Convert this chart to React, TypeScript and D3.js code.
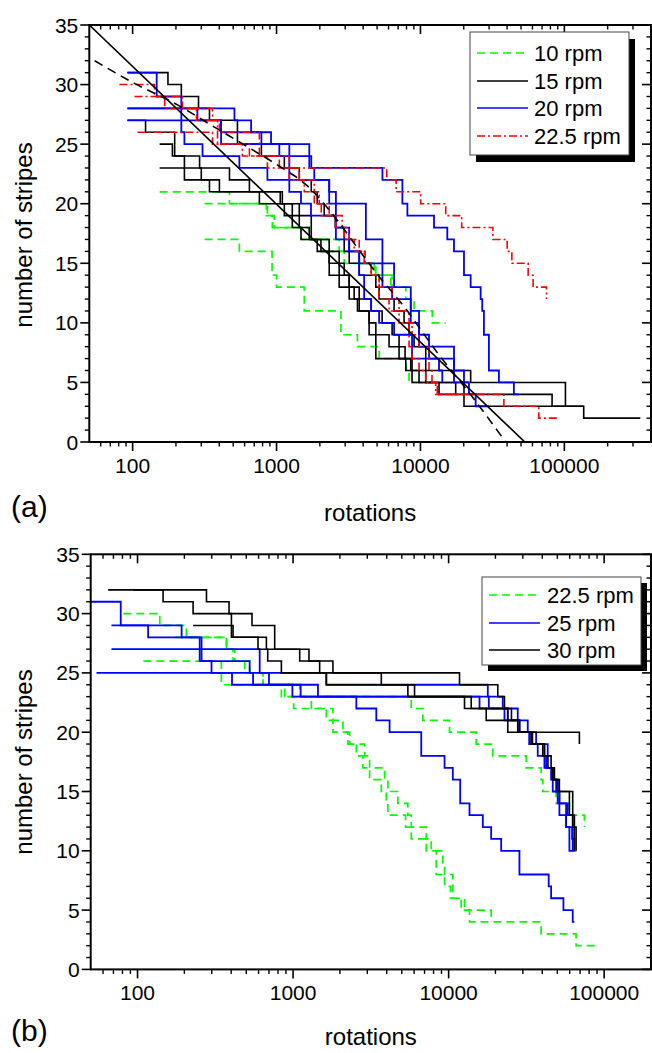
import React from 'react';
import * as d3 from 'd3';

type Pt = [number, number];

// ===== Panel (a) data: [rotations, number of stripes] breakpoints of each run =====
const a10rpm: Pt[][] = [
  [[154,21],[471,20],[850,19],[935,18],[1689,17],[2724,16],[3753,15],[4768,14],[6355,13],[7910,12],[9030,11],[12090,10],[14980,10]],
  [[316,20],[864,19],[965,18],[1486,17],[2323,16],[2953,15],[4898,14],[6223,13]],
  [[316,17],[552,16],[931,14],[1000,13],[1558,11],[2802,9],[3650,8],[5163,7],[7946,6],[8335,5],[12030,5]],
];
const a15rpm: Pt[][] = [
  [[92,31],[176,30],[218,29],[287,28],[342,27],[535,25],[785,24],[1133,23],[1439,22],[1743,21],[1918,20],[2145,19],[2557,18],[2953,16],[3198,15],[3753,14],[4898,13],[5163,12],[6560,11],[7697,10],[8335,9],[9030,8],[10885,6],[22330,5],[101760,3],[136300,2],[337100,2]],
  [[154,25],[189,24],[229,23],[300,22],[401,21],[1061,20],[1287,18],[1479,17],[2035,16],[2323,14],[2724,13],[3463,12],[3650,11],[4398,9],[4898,7],[7910,6],[10885,5],[20070,3],[136300,3]],
  [[92,27],[123,26],[196,24],[292,23],[471,22],[648,21],[1097,20],[1439,19],[1743,17],[2323,16],[2724,15],[2953,14],[3198,13],[3753,12],[4545,11],[5416,10],[6355,9],[7101,8],[7820,7],[8745,5],[17580,4],[82170,3],[101760,3]],
  [[154,23],[229,22],[342,21],[760,20],[1133,19],[1439,18],[1689,17],[1918,16],[2323,15],[2724,14],[3198,12],[3753,11],[4398,10],[4898,9],[6053,8],[7101,7],[8565,6],[9779,5],[13460,4],[17940,4]],
];
const a20rpm: Pt[][] = [
  [[92,31],[147,29],[218,26],[229,25],[306,24],[552,23],[864,22],[1227,21],[1479,20],[1735,19],[2586,17],[3198,16],[3753,15],[5442,13],[6355,12],[8565,10],[9779,8],[11470,7],[17100,5],[21730,4],[24190,3],[29910,3]],
  [[92,28],[510,27],[666,26],[916,25],[1689,23],[1829,22],[2323,21],[2586,20],[4176,17],[5442,15],[6560,13],[8565,11],[9779,9],[11470,8],[17100,6],[20070,5],[21730,5]],
  [[92,27],[412,25],[1227,22],[2323,20],[2586,18],[3198,16],[3753,14],[4064,12],[4545,11],[5163,10],[6560,9],[8745,7],[13460,6],[14190,5]],
  [[92,28],[282,27],[412,26],[785,25],[1046,24],[1743,23],[5442,22],[7491,20],[8114,19],[12427,18],[15370,17],[17100,16],[20070,14],[22330,13],[26200,12],[26880,11],[27610,9],[29910,6],[35090,5],[44580,4],[48290,4]],
];
const a225rpm: Pt[][] = [
  [[81,30],[142,29],[222,28],[359,27],[389,25],[579,24],[1227,23],[5830,22],[6773,21],[10040,20],[14990,19],[19340,18],[31880,17],[40060,16],[43170,15],[56020,14],[60660,13],[75150,12]],
  [[103,29],[167,28],[278,27],[401,26],[760,24],[1046,23],[1439,22],[1829,21],[1980,20],[2323,19],[2860,18],[3198,17],[3753,16],[4129,15],[4545,14],[5163,13],[6355,12],[7101,11],[8335,10],[8745,9],[9779,8],[11470,6],[12030,5],[13100,4],[37990,3],[66460,2],[91460,2]],
  [[108,26],[359,25],[648,24],[864,23],[1227,22],[1558,21],[1829,20],[2045,19],[2586,18],[2953,17],[3463,16],[4064,15],[4545,14],[5163,12],[6053,11],[7101,10],[8335,8],[8745,7],[9779,6],[10885,5],[12770,4],[20610,4]],
];
const aFitSolid: Pt[] = [[50,35],[53100,0]];
const aFitDashed: Pt[] = [[54.5,32],[103,30.1],[205,28.3],[351,26.6],[665,24.6],[1060,23.1],[1602,21.6],[2724,18.4],[3749,16.1],[5159,13.9],[7880,11.2],[10940,8.8],[13100,7.5],[22900,3.8],[39100,0]];

// ===== Panel (b) data =====
const b225rpm: Pt[][] = [
  [[81,30],[139,29],[206,28],[373,27],[422,26],[489,25],[641,24],[841,23],[1009,22],[1636,21],[1804,20],[2253,19],[2551,18],[2811,17],[3105,16],[3692,15],[3975,14],[4070,13],[5287,12],[5752,11],[7179,10],[8325,8],[9414,7],[10285,6],[12050,5],[18770,4]],
  [[109,26],[346,24],[884,23],[1311,22],[1804,21],[2092,20],[2310,19],[2883,18],[3105,17],[3877,16],[4070,15],[4718,14],[5470,13],[5752,12],[7179,11],[7730,10],[9181,9],[9414,8],[10640,6],[12650,5],[13620,4],[39330,3],[65990,2],[90830,2]],
  [[174,28],[373,27],[411,26],[526,25],[641,24],[1103,23],[5752,22],[6829,21],[10135,20],[15040,19],[19230,18],[31510,17],[39330,16],[40270,15],[49100,14],[59770,13],[74620,12]],
];
const b25rpm: Pt[][] = [
  [[50,31],[78,29],[192,28],[251,26],[299,25],[405,24],[990,23],[2551,22],[3428,21],[4173,20],[6668,18],[9414,17],[10640,16],[11870,14],[13620,13],[16590,12],[18770,11],[21770,10],[28530,8],[44000,7],[45600,6],[54700,5],[62770,4],[64370,4]],
  [[68,29],[117,28],[258,26],[526,25],[700,24],[1119,23],[15800,22],[24000,21],[28530,20],[33080,19],[37400,18],[42340,17],[46700,15],[51540,13],[56930,12],[59770,10],[62210,10]],
  [[68,27],[610,25],[1636,24],[17860,23],[22290,22],[27820,21],[32270,20],[36520,19],[43350,17],[46700,16],[50260,14],[58300,13],[62770,10],[64370,10]],
  [[54.5,25],[553,24],[1445,23],[18130,22],[22860,21],[28530,20],[33080,19],[41290,17],[45600,16],[49100,15],[51540,14],[56930,12],[62210,11],[64370,10]],
];
const b30rpm: Pt[][] = [
  [[64.7,32],[146,31],[227.6,30],[401.5,28],[595,27],[687,26],[841,25],[1636,24],[5470,23],[12650,22],[17440,21],[27820,20],[33920,19],[41290,18],[45600,17],[46700,16],[51540,15],[62770,12],[65990,10],[66290,10]],
  [[93.7,32],[277.5,31],[387.5,30],[544.5,29],[761.7,27],[1265,26],[1804,25],[3692,24],[6039,23],[13970,22],[24000,20],[69290,19]],
  [[227.6,29],[411.2,28],[673.8,27],[1103,26],[1482,25],[11750,24],[20700,23],[22860,22],[25350,21],[28530,20],[34590,19],[40270,18],[43350,17],[47880,16],[50260,15],[59770,13],[64370,10],[65320,10]],
];

// ===== axis ticks and labels =====
const xMajorTicks = [100, 1000, 10000, 100000];
const xMinorMultipliers = [2, 3, 4, 5, 6, 7, 8, 9];
const xDecades = [10, 100, 1000, 10000, 100000];
const yMajorTicks = [0, 5, 10, 15, 20, 25, 30, 35];
const yMinorTicks = [1,2,3,4,6,7,8,9,11,12,13,14,16,17,18,19,21,22,23,24,26,27,28,29,31,32,33,34];
const legendA = ['10 rpm', '15 rpm', '20 rpm', '22.5 rpm'];
const legendB = ['22.5 rpm', '25 rpm', '30 rpm'];
const xTitle = 'rotations';
const yTitle = 'number of stripes';

const FONT = "'Liberation Sans', Arial, Helvetica, sans-serif";
const GREEN = '#00ff00';
const BLUE = '#0000ff';
const RED = '#ff0000';
const BLACK = '#000000';
const GREEN_DASH = '8,5';
const RED_DASH = '8,3,2,3';

interface Group { runs: Pt[][]; color: string; dash?: string; width: number }
interface LegendItem { label: string; color: string; dash?: string }
interface PanelProps {
  clipId: string;
  left: number; right: number; top: number; bottom: number; xMax: number;
  groups: Group[];
  fits: { pts: Pt[]; dash?: string; smooth: boolean }[];
  legend: { x: number; y: number; w: number; h: number; sx: number; sy: number; rowY: number[]; lineX0: number; lineX1: number; textX: number; items: LegendItem[] };
  tag: string; tagY: number; xTitleY: number; yTitleX: number; yTitleY: number;
}

function Panel(p: PanelProps) {
  const x = d3.scaleLog().domain([50, p.xMax]).range([p.left, p.right]);
  const y = d3.scaleLinear().domain([0, 35]).range([p.bottom, p.top]);
  const step = d3.line<Pt>().x(d => x(d[0])).y(d => y(d[1])).curve(d3.curveStepAfter);
  const straight = d3.line<Pt>().x(d => x(d[0])).y(d => y(d[1]));
  const smooth = d3.line<Pt>().x(d => x(d[0])).y(d => y(d[1])).curve(d3.curveMonotoneX);

  const minors: number[] = [];
  xDecades.forEach(d => xMinorMultipliers.forEach(m => {
    const v = d * m;
    if (v > 50 && v < p.xMax) minors.push(v);
  }));

  const MAJ = 9, MIN = 4.5;
  return (
    <g>
      <defs>
        <clipPath id={p.clipId}>
          <rect x={p.left} y={p.top} width={p.right - p.left} height={p.bottom - p.top} />
        </clipPath>
      </defs>
      <g clipPath={`url(#${p.clipId})`}>
        {p.groups.map((g, gi) => g.runs.map((r, ri) => (
          <path key={`${gi}-${ri}`} d={step(r) || ''} fill="none" stroke={g.color}
            strokeWidth={g.width} strokeDasharray={g.dash} />
        )))}
        {p.fits.map((f, i) => (
          <path key={`f${i}`} d={(f.smooth ? smooth(f.pts) : straight(f.pts)) || ''} fill="none"
            stroke={BLACK} strokeWidth={1.6} strokeDasharray={f.dash} />
        ))}
      </g>
      <rect x={p.left} y={p.top} width={p.right - p.left} height={p.bottom - p.top}
        fill="none" stroke={BLACK} strokeWidth={2} />
      {xMajorTicks.map(v => (
        <g key={`xm${v}`}>
          <line x1={x(v)} x2={x(v)} y1={p.bottom} y2={p.bottom + MAJ} stroke={BLACK} strokeWidth={1.6} />
          <line x1={x(v)} x2={x(v)} y1={p.top} y2={p.top + MAJ} stroke={BLACK} strokeWidth={1.6} />
          <text x={x(v)} y={p.bottom + 31} textAnchor="middle" fontFamily={FONT} fontSize={21}>{v}</text>
        </g>
      ))}
      {minors.map(v => (
        <g key={`xn${v}`}>
          <line x1={x(v)} x2={x(v)} y1={p.bottom} y2={p.bottom + MIN} stroke={BLACK} strokeWidth={1.4} />
          <line x1={x(v)} x2={x(v)} y1={p.top} y2={p.top + MIN} stroke={BLACK} strokeWidth={1.4} />
        </g>
      ))}
      {yMajorTicks.map(v => (
        <g key={`ym${v}`}>
          <line x1={p.left - MAJ} x2={p.left} y1={y(v)} y2={y(v)} stroke={BLACK} strokeWidth={1.6} />
          <line x1={p.right - MAJ} x2={p.right} y1={y(v)} y2={y(v)} stroke={BLACK} strokeWidth={1.6} />
          <text x={p.left - 11} y={y(v) + 7.5} textAnchor="end" fontFamily={FONT} fontSize={21}>{v}</text>
        </g>
      ))}
      {yMinorTicks.map(v => (
        <g key={`yn${v}`}>
          <line x1={p.left - MIN} x2={p.left} y1={y(v)} y2={y(v)} stroke={BLACK} strokeWidth={1.4} />
          <line x1={p.right - MIN} x2={p.right} y1={y(v)} y2={y(v)} stroke={BLACK} strokeWidth={1.4} />
        </g>
      ))}
      <text x={(p.left + p.right) / 2} y={p.xTitleY} textAnchor="middle" fontFamily={FONT} fontSize={24}>{xTitle}</text>
      <text transform={`translate(${p.yTitleX},${p.yTitleY}) rotate(-90)`} textAnchor="middle" fontFamily={FONT} fontSize={24}>{yTitle}</text>
      <text x={11} y={p.tagY} fontFamily={FONT} fontSize={30}>{p.tag}</text>
      <rect x={p.legend.x + p.legend.sx} y={p.legend.y + p.legend.sy} width={p.legend.w} height={p.legend.h} fill={BLACK} />
      <rect x={p.legend.x} y={p.legend.y} width={p.legend.w} height={p.legend.h} fill="#ffffff" stroke="#444" strokeWidth={1} />
      {p.legend.items.map((it, i) => (
        <g key={`lg${i}`}>
          <line x1={p.legend.lineX0} x2={p.legend.lineX1} y1={p.legend.rowY[i]} y2={p.legend.rowY[i]}
            stroke={it.color} strokeWidth={1.6} strokeDasharray={it.dash} />
          <text x={p.legend.textX} y={p.legend.rowY[i] + 8} fontFamily={FONT} fontSize={22}>{it.label}</text>
        </g>
      ))}
    </g>
  );
}

export default function App() {
  return (
    <svg width={652} height={1053} style={{ position: 'absolute', left: 0, top: 0, background: '#fff' }}>
      <rect x={0} y={0} width={652} height={1053} fill="#fff" />
      <Panel
        clipId="clipA"
        left={89.3} right={651} top={25} bottom={442} xMax={400000}
        groups={[
          { runs: a10rpm, color: GREEN, dash: GREEN_DASH, width: 1.7 },
          { runs: a15rpm, color: BLACK, width: 1.6 },
          { runs: a20rpm, color: BLUE, width: 1.8 },
          { runs: a225rpm, color: RED, dash: RED_DASH, width: 1.6 },
        ]}
        fits={[
          { pts: aFitSolid, smooth: false },
          { pts: aFitDashed, dash: '9,6', smooth: true },
        ]}
        legend={{
          x: 470, y: 32, w: 159, h: 123, sx: 6, sy: 7,
          rowY: [53, 81, 108, 136], lineX0: 477, lineX1: 528, textX: 534,
          items: [
            { label: legendA[0], color: GREEN, dash: GREEN_DASH },
            { label: legendA[1], color: BLACK },
            { label: legendA[2], color: BLUE },
            { label: legendA[3], color: RED, dash: RED_DASH },
          ],
        }}
        tag="(a)" tagY={517} xTitleY={521} yTitleX={32} yTitleY={235}
      />
      <Panel
        clipId="clipB"
        left={90.7} right={651} top={554.3} bottom={969.4} xMax={200000}
        groups={[
          { runs: b225rpm, color: GREEN, dash: GREEN_DASH, width: 1.7 },
          { runs: b25rpm, color: BLUE, width: 1.8 },
          { runs: b30rpm, color: BLACK, width: 1.6 },
        ]}
        fits={[]}
        legend={{
          x: 482, y: 577, w: 159, h: 88, sx: 6, sy: 6,
          rowY: [595, 623, 650], lineX0: 489, lineX1: 540, textX: 547,
          items: [
            { label: legendB[0], color: GREEN, dash: GREEN_DASH },
            { label: legendB[1], color: BLUE },
            { label: legendB[2], color: BLACK },
          ],
        }}
        tag="(b)" tagY={1041} xTitleY={1045} yTitleX={32} yTitleY={762}
      />
    </svg>
  );
}
